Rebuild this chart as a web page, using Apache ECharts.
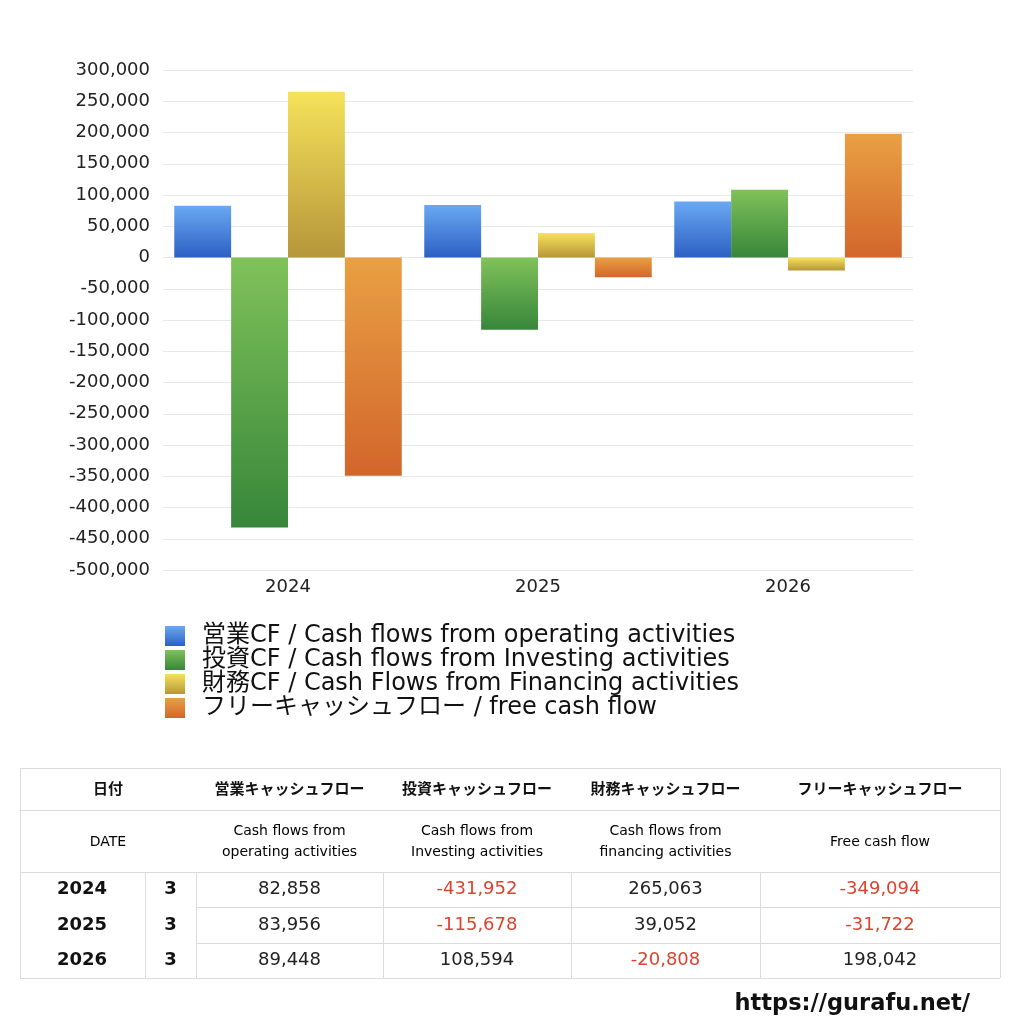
<!DOCTYPE html>
<html><head><meta charset="utf-8">
<script src="https://cdn.jsdelivr.net/npm/echarts@6/dist/echarts.min.js"></script>
<style>html,body{margin:0;padding:0;background:#fff}#c{width:1024px;height:1024px}</style>
</head><body><div id="c"></div>
<script>
const categories = ['2024', '2025', '2026'];
const months = ['3', '3', '3'];
const seriesNames = [
  '営業CF / Cash flows from operating activities',
  '投資CF / Cash flows from Investing activities',
  '財務CF / Cash Flows from Financing activities',
  'フリーキャッシュフロー / free cash flow'
];
const operating = [82858, 83956, 89448];
const investing = [-431952, -115678, 108594];
const financing = [265063, 39052, -20808];
const freeCF = [-349094, -31722, 198042];
const headerJa = ['日付', '営業キャッシュフロー', '投資キャッシュフロー', '財務キャッシュフロー', 'フリーキャッシュフロー'];
const headerEn = ['DATE', 'Cash flows from\noperating activities', 'Cash flows from\nInvesting activities', 'Cash flows from\nfinancing activities', 'Free cash flow'];
const yTicks = { min: -500000, max: 300000, interval: 50000 };

const gradients = [
  ['#6aa8f2', '#2c60c4'],
  ['#80c25a', '#37863a'],
  ['#f6e25a', '#b6963a'],
  ['#e9a043', '#d2662c']
];
const allSeries = [operating, investing, financing, freeCF];
const FONT = '"DejaVu Sans", "Noto Sans CJK JP", sans-serif';
const fmt = v => v.toLocaleString('en-US');

function grad(c) {
  return new echarts.graphic.LinearGradient(0, 0, 0, 1, [{offset: 0, color: c[0]}, {offset: 1, color: c[1]}]);
}

// table geometry
const tX = [20, 145, 196, 383, 571, 760, 1000];
const tY = [768, 810, 872, 907, 943, 978];
const lineC = '#dcdcdc';
const g = [];
function hline(x1, x2, y) { g.push({type: 'line', shape: {x1, y1: y + 0.5, x2, y2: y + 0.5}, style: {stroke: lineC, lineWidth: 1}, silent: true}); }
function vline(x, y1, y2) { g.push({type: 'line', shape: {x1: x + 0.5, y1, x2: x + 0.5, y2}, style: {stroke: lineC, lineWidth: 1}, silent: true}); }
function txt(text, x, y, size, weight, color, align, lh) {
  g.push({type: 'text', x, y, style: {text, font: weight + ' ' + size + 'px ' + FONT, fill: color, align: align || 'center', verticalAlign: 'middle', lineHeight: lh || size * 1.5}, silent: true});
}
hline(tX[0], tX[6], tY[0]);
hline(tX[0], tX[6], tY[1]);
hline(tX[0], tX[6], tY[2]);
hline(tX[2], tX[6], tY[3]);
hline(tX[2], tX[6], tY[4]);
hline(tX[0], tX[6], tY[5]);
vline(tX[0], tY[0], tY[5]);
vline(tX[6], tY[0], tY[5]);
for (let i = 1; i <= 5; i++) vline(tX[i], tY[2], tY[5]);
// headers
const hcx = [(tX[0] + tX[2]) / 2, (tX[2] + tX[3]) / 2, (tX[3] + tX[4]) / 2, (tX[4] + tX[5]) / 2, (tX[5] + tX[6]) / 2];
headerJa.forEach((h, i) => txt(h, hcx[i], (tY[0] + tY[1]) / 2 + 1, 15, 'bold', '#111'));
headerEn.forEach((h, i) => txt(h, hcx[i], (tY[1] + tY[2]) / 2 + 1, 14, 'normal', '#000', 'center', 21));
categories.forEach((c, r) => {
  const cy = (tY[2 + r] + tY[3 + r]) / 2;
  txt(c, 57, cy, 18, 'bold', '#111', 'left');
  txt(months[r], (tX[1] + tX[2]) / 2, cy, 18, 'bold', '#111');
  allSeries.forEach((s, k) => {
    const v = s[r];
    txt(fmt(v), hcx[k + 1], cy, 18, 'normal', v < 0 ? '#d9452f' : '#222');
  });
});
g.push({type: 'text', x: 970, y: 1004, style: {text: 'https://gurafu.net/', font: 'bold 22.5px ' + FONT, fill: '#111', align: 'right', verticalAlign: 'middle'}, silent: true});

const chart = echarts.init(document.getElementById('c'), null, {renderer: 'canvas'});
chart.setOption({
  backgroundColor: '#fff',
  animation: false,
  textStyle: {fontFamily: FONT},
  grid: {left: 163, right: 111, top: 70, bottom: 454, containLabel: false},
  legend: {
    orient: 'vertical', left: 160, top: 619, itemWidth: 20, itemHeight: 20, itemGap: 0,
    icon: 'rect',
    textStyle: {fontSize: 24, lineHeight: 20, color: '#111', fontFamily: FONT, padding: [2, 0, 0, 12]},
    data: seriesNames
  },
  xAxis: {
    type: 'category', data: categories,
    axisLine: {show: false}, axisTick: {show: false},
    axisLabel: {fontSize: 18, color: '#222', margin: 8}
  },
  yAxis: {
    type: 'value', min: yTicks.min, max: yTicks.max, interval: yTicks.interval,
    axisLabel: {fontSize: 18, color: '#222', margin: 13, formatter: v => fmt(v)},
    splitLine: {lineStyle: {color: '#e8e8e8'}},
    axisLine: {show: false}, axisTick: {show: false}
  },
  series: allSeries.map((s, i) => ({
    name: seriesNames[i], type: 'bar', data: s,
    barGap: '0%', barCategoryGap: '9%',
    itemStyle: {color: grad(gradients[i])}
  })),
  graphic: g
});
</script></body></html>
